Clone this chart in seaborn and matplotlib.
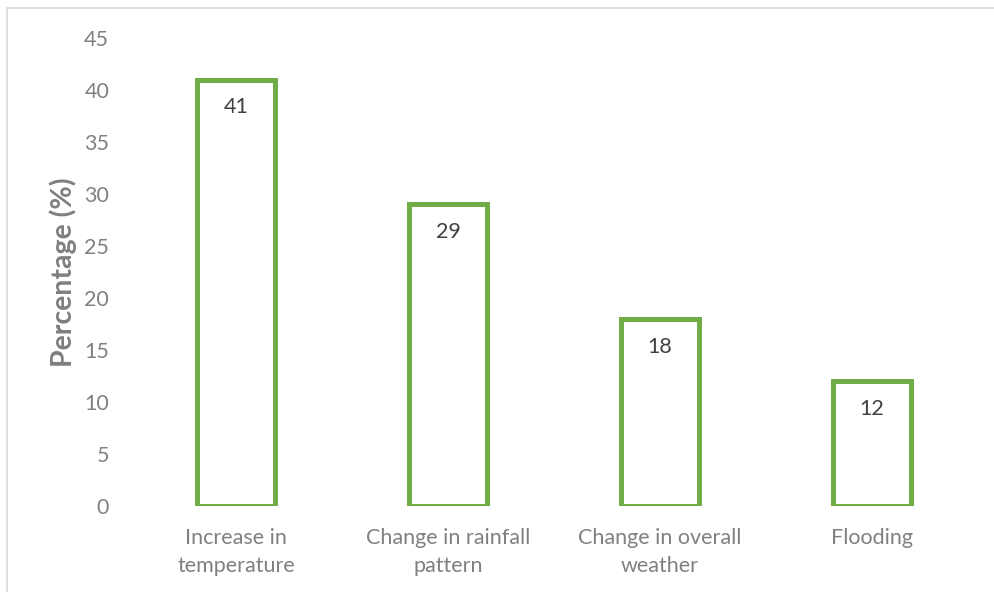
import matplotlib
matplotlib.use("Agg")
import matplotlib.pyplot as plt
from matplotlib.patches import Rectangle
import seaborn as sns
import pandas as pd

categories = ["Increase in\ntemperature", "Change in rainfall\npattern",
              "Change in overall\nweather", "Flooding"]
percentages = [41, 29, 18, 12]
y_ticks = [0, 5, 10, 15, 20, 25, 30, 35, 40, 45]

sns.set_theme(style="white")
plt.rcParams["font.family"] = ["Lato", "DejaVu Sans"]

df = pd.DataFrame({"category": categories, "percentage": percentages})

W, H = 995, 592
fig = plt.figure(figsize=(W / 100, H / 100), dpi=100)
ax = fig.add_axes([130 / W, 1 - 506 / H, (978 - 130) / W, (506 - 38) / H])

sns.barplot(data=df, x="category", y="percentage", ax=ax, fill=False,
            edgecolor="#70AD47", linewidth=3.6, width=0.37, errorbar=None)
for p in ax.patches:
    p.set_joinstyle("miter")
    p.set_facecolor("none")

ax.set_ylim(0, 45)
ax.set_xlim(-0.5, 3.5)
ax.set_yticks(y_ticks)
ax.set_yticklabels([str(v) for v in y_ticks])
ax.tick_params(axis="both", length=0, labelsize=15.5, colors="#808080")
ax.tick_params(axis="y", pad=15)
ax.tick_params(axis="x", pad=16)
for lbl in ax.get_xticklabels():
    lbl.set_linespacing(1.5)
ax.set_xlabel("")
ax.set_ylabel("Percentage (%)", fontsize=20.5, fontweight="bold",
              color="#7f7f7f", labelpad=5)
for s in ax.spines.values():
    s.set_visible(False)

for i, v in enumerate(percentages):
    ax.annotate(str(v), xy=(i, v), xytext=(0, -20), textcoords="offset points",
                ha="center", va="center", fontsize=15.5, color="#404040")

fig.add_artist(Rectangle((7 / W, -0.1), 1.2, 1 - 8 / H + 0.1,
                         transform=fig.transFigure, fill=False,
                         edgecolor="#d9d9d9", linewidth=1.2, clip_on=False))

fig.savefig("out.png", dpi=100)
